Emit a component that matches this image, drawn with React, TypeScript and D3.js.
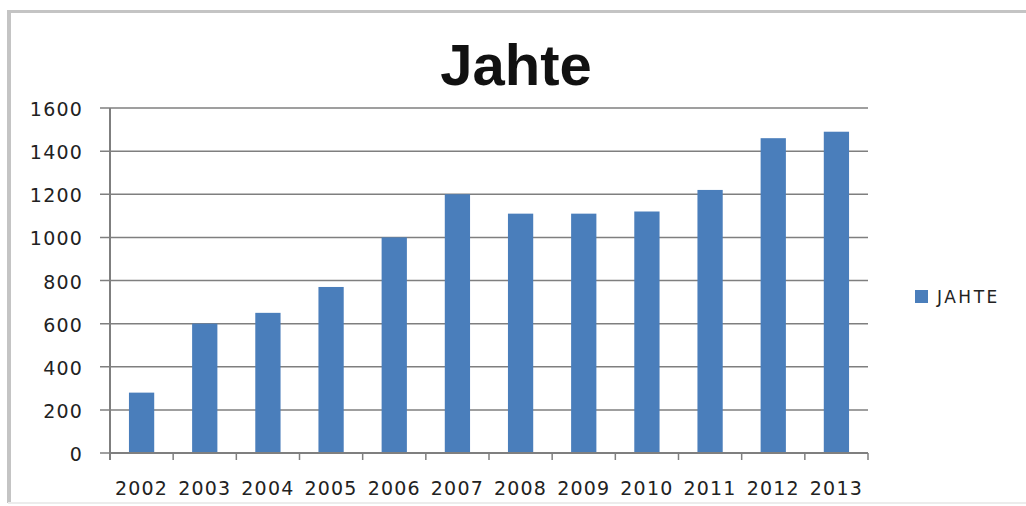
import React from "react";
import * as d3 from "d3";

const years = ["2002", "2003", "2004", "2005", "2006", "2007", "2008", "2009", "2010", "2011", "2012", "2013"];
const values = [280, 600, 650, 770, 1000, 1200, 1110, 1110, 1120, 1220, 1460, 1490];
const yTicks = [0, 200, 400, 600, 800, 1000, 1200, 1400, 1600];
const title = "Jahte";
const seriesName = "JAHTE";

const W = 1026;
const H = 506;
const left = 110;
const right = 868;
const top = 108;
const bottom = 453;

const BAR = "#4a7ebb";
const GRID = "#7f7f7f";
const FONT = "DejaVu Sans, Verdana, sans-serif";

export default function App() {
  const x = d3.scaleBand<string>().domain(years).range([left, right]).paddingInner(0.6).paddingOuter(0.3);
  const y = d3.scaleLinear().domain([0, 1600]).range([bottom, top]);
  const step = x.step();
  const boundaries = d3.range(years.length + 1).map((i) => left + i * step);

  return (
    <svg width={W} height={H} style={{ position: "absolute", left: 0, top: 0, background: "#fff" }}>
      <rect x={0} y={0} width={W} height={H} fill="#fff" />
      {/* frame */}
      <line x1={8} x2={W} y1={11.5} y2={11.5} stroke="#c4c4c4" strokeWidth={3} />
      <line x1={9} x2={9} y1={10} y2={503} stroke="#c4c4c4" strokeWidth={4} />
      <line x1={8} x2={W} y1={503} y2={503} stroke="#ececec" strokeWidth={2} />

      <text x={516} y={85} textAnchor="middle" fontFamily="'Liberation Sans', Arial, sans-serif" fontWeight="bold" fontSize={58} fill="#111">
        {title}
      </text>

      {/* gridlines + y ticks */}
      {yTicks.map((t) => (
        <g key={t}>
          <line x1={left - 10} x2={right} y1={y(t)} y2={y(t)} stroke={GRID} strokeWidth={1.5} />
          <text x={83} y={y(t) + 8} textAnchor="end" fontFamily={FONT} fontSize={19} letterSpacing={1.2} fill="#222">
            {t}
          </text>
        </g>
      ))}

      {/* bars */}
      {years.map((yr, i) => (
        <rect key={yr} x={x(yr)} y={y(values[i])} width={x.bandwidth()} height={bottom - y(values[i])} fill={BAR} />
      ))}

      {/* axes */}
      <line x1={left} x2={left} y1={top} y2={bottom + 7} stroke={GRID} strokeWidth={2} />
      <line x1={left} x2={right} y1={bottom} y2={bottom} stroke={GRID} strokeWidth={2} />
      {boundaries.map((b, i) => (
        <line key={i} x1={b} x2={b} y1={bottom} y2={bottom + 7} stroke={GRID} strokeWidth={1.5} />
      ))}
      {years.map((yr) => (
        <text key={yr} x={(x(yr) as number) + x.bandwidth() / 2} y={495} textAnchor="middle" fontFamily={FONT} fontSize={19} letterSpacing={1.2} fill="#222">
          {yr}
        </text>
      ))}

      {/* legend */}
      <rect x={915} y={290} width={13} height={13} fill={BAR} />
      <text x={937} y={303} fontFamily={FONT} fontSize={17} letterSpacing={2.5} fill="#222">
        {seriesName}
      </text>
    </svg>
  );
}
